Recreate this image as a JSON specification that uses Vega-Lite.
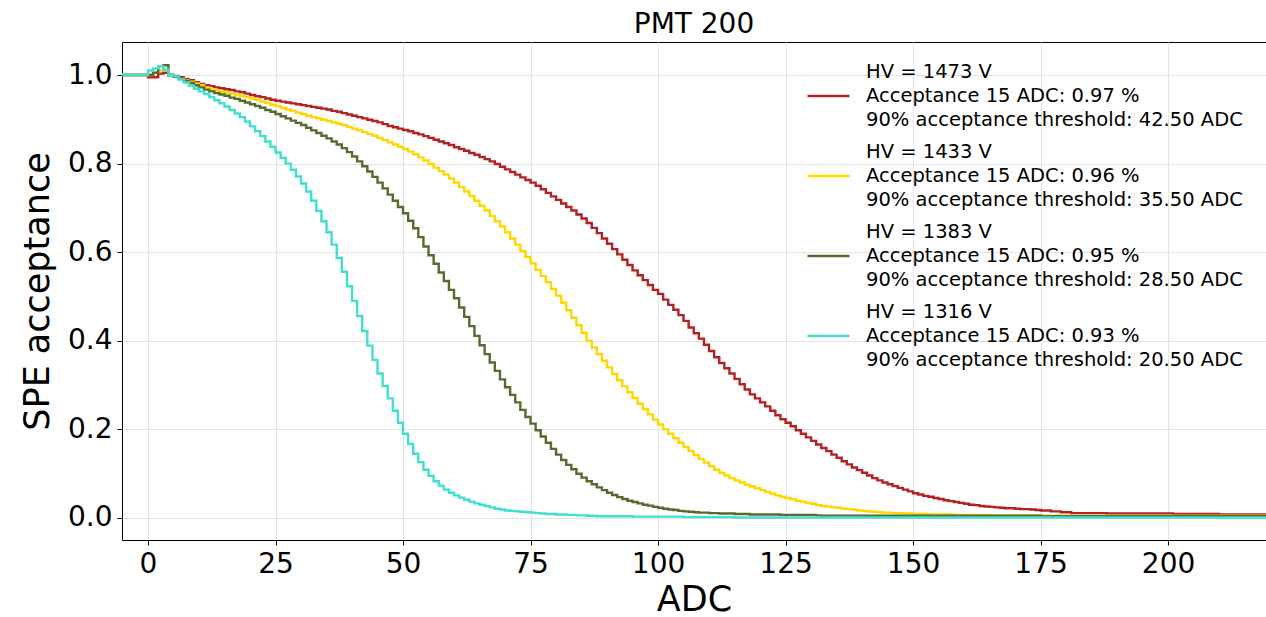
{
"$schema": "https://vega.github.io/schema/vega-lite/v6.json",
"width": 1144, "height": 498,
"autosize": {"type": "none"},
"padding": {"left": 122, "top": 42, "right": 0, "bottom": 77},
"background": "white",
"title": {"text": "PMT 200", "fontSize": 28, "fontWeight": "normal", "font": "DejaVu Sans", "color": "black", "offset": 8, "baseline": "alphabetic", "frame": "group", "dy": 27},
"data": {"values": [
{"x":-6,"a":1,"b":1,"c":1,"d":1},
{"x":0,"a":0.995,"b":1.0,"c":1.0,"d":1.01},
{"x":1,"a":0.995,"b":1.005,"c":1.005,"d":1.015},
{"x":2,"a":1.003,"b":1.01,"c":1.02,"d":1.02},
{"x":3,"a":1.005,"b":1.01,"c":1.022,"d":1.012},
{"x":4,"a":1.0,"b":1.0,"c":1.0,"d":1.0},
{"x":5,"a":0.998,"b":0.997,"c":0.996,"d":0.997},
{"x":6,"a":0.995,"b":0.993,"c":0.992,"d":0.99},
{"x":7,"a":0.991,"b":0.989,"c":0.987,"d":0.983},
{"x":8,"a":0.988,"b":0.985,"c":0.982,"d":0.976},
{"x":9,"a":0.984,"b":0.981,"c":0.977,"d":0.969},
{"x":10,"a":0.98,"b":0.977,"c":0.972,"d":0.963},
{"x":11,"a":0.977,"b":0.972,"c":0.967,"d":0.957},
{"x":12,"a":0.975,"b":0.968,"c":0.963,"d":0.95},
{"x":13,"a":0.972,"b":0.965,"c":0.959,"d":0.943},
{"x":14,"a":0.97,"b":0.962,"c":0.956,"d":0.936},
{"x":15,"a":0.968,"b":0.96,"c":0.953,"d":0.929},
{"x":16,"a":0.966,"b":0.958,"c":0.949,"d":0.921},
{"x":17,"a":0.963,"b":0.955,"c":0.946,"d":0.913},
{"x":18,"a":0.961,"b":0.953,"c":0.942,"d":0.905},
{"x":19,"a":0.958,"b":0.95,"c":0.938,"d":0.895},
{"x":20,"a":0.955,"b":0.947,"c":0.934,"d":0.884},
{"x":21,"a":0.952,"b":0.944,"c":0.93,"d":0.873},
{"x":22,"a":0.95,"b":0.94,"c":0.926,"d":0.862},
{"x":23,"a":0.947,"b":0.937,"c":0.921,"d":0.85},
{"x":24,"a":0.944,"b":0.933,"c":0.917,"d":0.838},
{"x":25,"a":0.942,"b":0.93,"c":0.912,"d":0.825},
{"x":26,"a":0.94,"b":0.926,"c":0.907,"d":0.813},
{"x":27,"a":0.938,"b":0.922,"c":0.902,"d":0.8},
{"x":28,"a":0.936,"b":0.919,"c":0.897,"d":0.786},
{"x":29,"a":0.934,"b":0.915,"c":0.892,"d":0.771},
{"x":30,"a":0.932,"b":0.912,"c":0.887,"d":0.755},
{"x":31,"a":0.93,"b":0.908,"c":0.881,"d":0.737},
{"x":32,"a":0.928,"b":0.905,"c":0.875,"d":0.716},
{"x":33,"a":0.926,"b":0.902,"c":0.869,"d":0.693},
{"x":34,"a":0.924,"b":0.899,"c":0.863,"d":0.67},
{"x":35,"a":0.922,"b":0.896,"c":0.857,"d":0.645},
{"x":36,"a":0.919,"b":0.893,"c":0.85,"d":0.617},
{"x":37,"a":0.917,"b":0.89,"c":0.843,"d":0.587},
{"x":38,"a":0.914,"b":0.887,"c":0.835,"d":0.556},
{"x":39,"a":0.911,"b":0.883,"c":0.826,"d":0.523},
{"x":40,"a":0.908,"b":0.879,"c":0.816,"d":0.49},
{"x":41,"a":0.905,"b":0.875,"c":0.805,"d":0.456},
{"x":42,"a":0.902,"b":0.871,"c":0.794,"d":0.422},
{"x":43,"a":0.899,"b":0.867,"c":0.782,"d":0.389},
{"x":44,"a":0.896,"b":0.863,"c":0.77,"d":0.357},
{"x":45,"a":0.893,"b":0.858,"c":0.757,"d":0.326},
{"x":46,"a":0.889,"b":0.853,"c":0.744,"d":0.298},
{"x":47,"a":0.885,"b":0.848,"c":0.73,"d":0.27},
{"x":48,"a":0.882,"b":0.843,"c":0.716,"d":0.242},
{"x":49,"a":0.879,"b":0.838,"c":0.702,"d":0.215},
{"x":50,"a":0.876,"b":0.833,"c":0.688,"d":0.19},
{"x":51,"a":0.873,"b":0.827,"c":0.671,"d":0.167},
{"x":52,"a":0.869,"b":0.821,"c":0.654,"d":0.145},
{"x":53,"a":0.866,"b":0.814,"c":0.634,"d":0.126},
{"x":54,"a":0.862,"b":0.807,"c":0.613,"d":0.109},
{"x":55,"a":0.858,"b":0.799,"c":0.593,"d":0.095},
{"x":56,"a":0.854,"b":0.791,"c":0.574,"d":0.083},
{"x":57,"a":0.85,"b":0.783,"c":0.554,"d":0.073},
{"x":58,"a":0.846,"b":0.775,"c":0.535,"d":0.064},
{"x":59,"a":0.842,"b":0.766,"c":0.515,"d":0.057},
{"x":60,"a":0.837,"b":0.757,"c":0.496,"d":0.051},
{"x":61,"a":0.833,"b":0.747,"c":0.475,"d":0.046},
{"x":62,"a":0.829,"b":0.737,"c":0.454,"d":0.041},
{"x":63,"a":0.824,"b":0.727,"c":0.433,"d":0.037},
{"x":64,"a":0.82,"b":0.716,"c":0.411,"d":0.033},
{"x":65,"a":0.815,"b":0.705,"c":0.39,"d":0.03},
{"x":66,"a":0.81,"b":0.694,"c":0.37,"d":0.027},
{"x":67,"a":0.805,"b":0.682,"c":0.351,"d":0.024},
{"x":68,"a":0.799,"b":0.67,"c":0.332,"d":0.021},
{"x":69,"a":0.793,"b":0.658,"c":0.313,"d":0.019},
{"x":70,"a":0.787,"b":0.645,"c":0.295,"d":0.017},
{"x":71,"a":0.781,"b":0.631,"c":0.278,"d":0.016},
{"x":72,"a":0.775,"b":0.617,"c":0.261,"d":0.015},
{"x":73,"a":0.769,"b":0.603,"c":0.244,"d":0.014},
{"x":74,"a":0.763,"b":0.589,"c":0.228,"d":0.013},
{"x":75,"a":0.757,"b":0.575,"c":0.213,"d":0.012},
{"x":76,"a":0.75,"b":0.56,"c":0.198,"d":0.011},
{"x":77,"a":0.742,"b":0.546,"c":0.184,"d":0.01},
{"x":78,"a":0.734,"b":0.532,"c":0.17,"d":0.009},
{"x":79,"a":0.726,"b":0.517,"c":0.156,"d":0.009},
{"x":80,"a":0.718,"b":0.502,"c":0.143,"d":0.008},
{"x":81,"a":0.71,"b":0.486,"c":0.131,"d":0.008},
{"x":82,"a":0.702,"b":0.469,"c":0.12,"d":0.007},
{"x":83,"a":0.694,"b":0.452,"c":0.11,"d":0.007},
{"x":84,"a":0.685,"b":0.435,"c":0.1,"d":0.006},
{"x":85,"a":0.676,"b":0.418,"c":0.091,"d":0.006},
{"x":86,"a":0.666,"b":0.4,"c":0.083,"d":0.005},
{"x":87,"a":0.655,"b":0.385,"c":0.076,"d":0.005},
{"x":88,"a":0.643,"b":0.37,"c":0.069,"d":0.004},
{"x":89,"a":0.631,"b":0.355,"c":0.063,"d":0.004},
{"x":90,"a":0.619,"b":0.34,"c":0.057,"d":0.004},
{"x":91,"a":0.607,"b":0.325,"c":0.052,"d":0.004},
{"x":92,"a":0.595,"b":0.311,"c":0.047,"d":0.004},
{"x":93,"a":0.583,"b":0.297,"c":0.043,"d":0.004},
{"x":94,"a":0.571,"b":0.284,"c":0.039,"d":0.004},
{"x":95,"a":0.559,"b":0.271,"c":0.036,"d":0.003},
{"x":96,"a":0.548,"b":0.258,"c":0.033,"d":0.003},
{"x":97,"a":0.537,"b":0.246,"c":0.03,"d":0.003},
{"x":98,"a":0.526,"b":0.234,"c":0.028,"d":0.003},
{"x":99,"a":0.515,"b":0.222,"c":0.025,"d":0.003},
{"x":100,"a":0.506,"b":0.211,"c":0.023,"d":0.003},
{"x":101,"a":0.493,"b":0.2,"c":0.021,"d":0.003},
{"x":102,"a":0.481,"b":0.19,"c":0.019,"d":0.003},
{"x":103,"a":0.47,"b":0.18,"c":0.018,"d":0.003},
{"x":104,"a":0.458,"b":0.17,"c":0.016,"d":0.003},
{"x":105,"a":0.445,"b":0.16,"c":0.015,"d":0.002},
{"x":106,"a":0.43,"b":0.151,"c":0.014,"d":0.002},
{"x":107,"a":0.417,"b":0.142,"c":0.013,"d":0.002},
{"x":108,"a":0.405,"b":0.133,"c":0.012,"d":0.002},
{"x":109,"a":0.391,"b":0.125,"c":0.012,"d":0.002},
{"x":110,"a":0.377,"b":0.117,"c":0.011,"d":0.002},
{"x":111,"a":0.363,"b":0.109,"c":0.011,"d":0.002},
{"x":112,"a":0.35,"b":0.102,"c":0.01,"d":0.002},
{"x":113,"a":0.338,"b":0.096,"c":0.01,"d":0.002},
{"x":114,"a":0.326,"b":0.09,"c":0.01,"d":0.002},
{"x":115,"a":0.314,"b":0.085,"c":0.009,"d":0.001},
{"x":116,"a":0.302,"b":0.08,"c":0.009,"d":0.001},
{"x":117,"a":0.29,"b":0.075,"c":0.009,"d":0.001},
{"x":118,"a":0.279,"b":0.071,"c":0.008,"d":0.001},
{"x":119,"a":0.27,"b":0.067,"c":0.008,"d":0.001},
{"x":120,"a":0.261,"b":0.063,"c":0.008,"d":0.001},
{"x":121,"a":0.252,"b":0.059,"c":0.008,"d":0.001},
{"x":122,"a":0.242,"b":0.055,"c":0.008,"d":0.001},
{"x":123,"a":0.232,"b":0.051,"c":0.008,"d":0.001},
{"x":124,"a":0.223,"b":0.048,"c":0.007,"d":0.001},
{"x":125,"a":0.215,"b":0.045,"c":0.007,"d":0.001},
{"x":126,"a":0.207,"b":0.042,"c":0.007,"d":0.001},
{"x":127,"a":0.198,"b":0.039,"c":0.007,"d":0.001},
{"x":128,"a":0.19,"b":0.037,"c":0.007,"d":0.001},
{"x":129,"a":0.182,"b":0.034,"c":0.007,"d":0.001},
{"x":130,"a":0.174,"b":0.032,"c":0.007,"d":0.001},
{"x":131,"a":0.166,"b":0.029,"c":0.006,"d":0.001},
{"x":132,"a":0.158,"b":0.027,"c":0.005,"d":0.001},
{"x":133,"a":0.151,"b":0.026,"c":0.005,"d":0.001},
{"x":134,"a":0.143,"b":0.024,"c":0.005,"d":0.001},
{"x":135,"a":0.136,"b":0.023,"c":0.005,"d":0.001},
{"x":136,"a":0.128,"b":0.021,"c":0.005,"d":0.001},
{"x":137,"a":0.121,"b":0.02,"c":0.005,"d":0.001},
{"x":138,"a":0.114,"b":0.019,"c":0.005,"d":0.001},
{"x":139,"a":0.108,"b":0.017,"c":0.005,"d":0.001},
{"x":140,"a":0.102,"b":0.016,"c":0.005,"d":0.001},
{"x":141,"a":0.096,"b":0.015,"c":0.005,"d":0.001},
{"x":142,"a":0.09,"b":0.014,"c":0.005,"d":0.001},
{"x":143,"a":0.085,"b":0.013,"c":0.005,"d":0.001},
{"x":144,"a":0.08,"b":0.012,"c":0.005,"d":0.001},
{"x":145,"a":0.076,"b":0.012,"c":0.005,"d":0.001},
{"x":146,"a":0.072,"b":0.011,"c":0.005,"d":0.001},
{"x":147,"a":0.068,"b":0.011,"c":0.005,"d":0.001},
{"x":148,"a":0.064,"b":0.01,"c":0.005,"d":0.001},
{"x":149,"a":0.06,"b":0.01,"c":0.005,"d":0.001},
{"x":150,"a":0.056,"b":0.009,"c":0.005,"d":0.001},
{"x":151,"a":0.053,"b":0.009,"c":0.005,"d":0.001},
{"x":152,"a":0.05,"b":0.009,"c":0.005,"d":0.001},
{"x":153,"a":0.048,"b":0.008,"c":0.005,"d":0.001},
{"x":154,"a":0.045,"b":0.008,"c":0.005,"d":0.001},
{"x":155,"a":0.043,"b":0.008,"c":0.005,"d":0.001},
{"x":156,"a":0.04,"b":0.008,"c":0.005,"d":0.001},
{"x":157,"a":0.038,"b":0.008,"c":0.005,"d":0.001},
{"x":158,"a":0.036,"b":0.007,"c":0.005,"d":0.001},
{"x":159,"a":0.034,"b":0.007,"c":0.005,"d":0.001},
{"x":160,"a":0.032,"b":0.007,"c":0.005,"d":0.001},
{"x":161,"a":0.03,"b":0.007,"c":0.005,"d":0.001},
{"x":162,"a":0.029,"b":0.007,"c":0.005,"d":0.001},
{"x":163,"a":0.027,"b":0.007,"c":0.005,"d":0.001},
{"x":164,"a":0.026,"b":0.007,"c":0.005,"d":0.001},
{"x":165,"a":0.025,"b":0.006,"c":0.005,"d":0.001},
{"x":166,"a":0.024,"b":0.006,"c":0.005,"d":0.001},
{"x":167,"a":0.023,"b":0.006,"c":0.005,"d":0.001},
{"x":168,"a":0.022,"b":0.006,"c":0.005,"d":0.001},
{"x":170,"a":0.021,"b":0.006,"c":0.005,"d":0.001},
{"x":171,"a":0.02,"b":0.006,"c":0.005,"d":0.001},
{"x":173,"a":0.019,"b":0.006,"c":0.005,"d":0.001},
{"x":174,"a":0.018,"b":0.006,"c":0.005,"d":0.001},
{"x":175,"a":0.017,"b":0.005,"c":0.004,"d":0.001},
{"x":177,"a":0.015,"b":0.005,"c":0.004,"d":0.001},
{"x":179,"a":0.013,"b":0.005,"c":0.004,"d":0.001},
{"x":181,"a":0.011,"b":0.005,"c":0.004,"d":0.001},
{"x":188,"a":0.01,"b":0.005,"c":0.004,"d":0.001},
{"x":201,"a":0.009,"b":0.005,"c":0.004,"d":0.001},
{"x":210,"a":0.008,"b":0.005,"c":0.004,"d":0.001},
{"x":221,"a":0.008,"b":0.005,"c":0.004,"d":0.001}
]},
"transform": [{"fold": ["a","b","c","d"], "as": ["k","v"]}],
"mark": {"type": "line", "interpolate": "step-after", "strokeWidth": 2.4, "clip": true},
"encoding": {
  "x": {"field": "x", "type": "quantitative",
        "scale": {"domain": [-5.1, 219.2], "nice": false, "zero": false},
        "axis": {"values": [0,25,50,75,100,125,150,175,200], "title": "ADC", "titlePadding": 4}},
  "y": {"field": "v", "type": "quantitative",
        "scale": {"domain": [-0.0497, 1.0745], "nice": false, "zero": false},
        "axis": {"values": [0,0.2,0.4,0.6,0.8,1.0], "format": ".1f", "title": "SPE acceptance", "titlePadding": 12}},
  "color": {"field": "k", "type": "nominal",
        "scale": {"domain": ["a","b","c","d"], "range": ["#b22222","#ffd700","#556b2f","#40e0d0"]},
        "legend": {"orient": "none", "legendX": 684, "legendY": 7.5, "title": null,
                   "symbolType": "M-1,1.143L1,1.143", "symbolSize": 1764, "symbolStrokeWidth": 2.4,
                   "labelFontSize": 19.5, "labelFont": "DejaVu Sans", "labelColor": "#000",
                   "labelOffset": 15, "labelLimit": 0, "rowPadding": -1.5,
                   "labelExpr": "datum.value == 'a' ? ['HV = 1473 V', 'Acceptance 15 ADC: 0.97 %', '90% acceptance threshold: 42.50 ADC'] : datum.value == 'b' ? ['HV = 1433 V', 'Acceptance 15 ADC: 0.96 %', '90% acceptance threshold: 35.50 ADC'] : datum.value == 'c' ? ['HV = 1383 V', 'Acceptance 15 ADC: 0.95 %', '90% acceptance threshold: 28.50 ADC'] : ['HV = 1316 V', 'Acceptance 15 ADC: 0.93 %', '90% acceptance threshold: 20.50 ADC']"}}
},
"config": {
  "font": "DejaVu Sans",
  "view": {"stroke": "#000", "strokeWidth": 1},
  "style": {"guide-label": {"lineHeight": 24}},
  "axis": {"labelFontSize": 28, "titleFontSize": 35, "labelColor": "#000", "titleColor": "#000",
           "titleFontWeight": "normal", "labelFont": "DejaVu Sans", "titleFont": "DejaVu Sans",
           "tickColor": "#000", "tickSize": 5, "tickWidth": 1, "labelPadding": 5,
           "domain": false, "grid": true, "gridColor": "#e3e3e3", "gridWidth": 1}
}
}
